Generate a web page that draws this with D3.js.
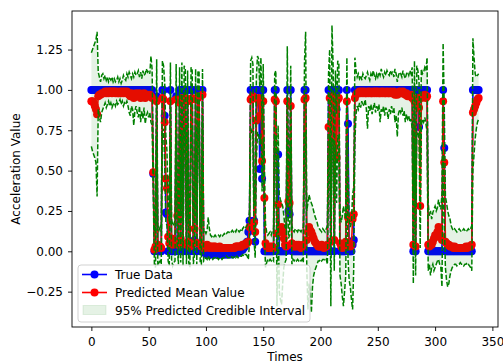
<!DOCTYPE html>
<html>
<head>
<meta charset="utf-8">
<script src="https://cdn.jsdelivr.net/npm/d3@7"></script>
<style>
  body { margin: 0; background: #fff; }
  svg { display: block; font-family: "DejaVu Sans", sans-serif; }
</style>
</head>
<body>
<div id="chart"></div>
<script>
// observed acceleration, one value per time step (0..338)
const trueData = [
  1,1,1,1,1,1,1,1,1,1,
  1,1,1,1,1,1,1,1,1,1,
  1,1,1,1,1,1,1,1,1,1,
  1,1,1,1,1,1,1,1,1,1,
  1,1,1,1,1,1,1,1,1,1,
  1,1,1,1,0.48,0,0,0.96,0,0,
  0,0,1,1,0.84,0.24,0.23,0,0,1,
  0,0,0.02,0,0.96,0,0,1,0.05,1,
  0,1,1,0,1,0,0,1,1,0,
  0.07,1,0,1,1,0.02,0,1,0,-0.01,
  -0.01,-0.02,-0.01,-0.02,-0.02,-0.01,-0.02,-0.02,-0.02,-0.01,
  -0.02,-0.02,-0.01,-0.02,-0.02,-0.02,-0.01,-0.02,-0.02,-0.01,
  -0.02,-0.01,-0.01,-0.02,-0.01,-0.01,-0.01,0,-0.01,0,
  0,0.01,0.01,0.02,0.03,0.05,0.06,0.12,0.19,1,
  1,1,0.19,0.06,1,1,1,0.51,1,0.45,
  1,0,0,0,0,0,0,0,0,0,
  1,1,0,0.6,0,0,0,0,0,0,
  0,1,0.25,0.23,1,0,0,0,0,0,
  0,0,0,0,0,0,1,1,0,0,
  0,0,0,0,0,0,0,0,0,0,
  0,0,0,0,0,0,0,1,1,0,
  1,1,0,1,0.88,1,1,0,0,0,
  0,0,0,1,0.79,0,0,0,0.04,0.07,
  1,1,1,1,1,1,1,1,1,1,
  1,1,1,1,1,1,1,1,1,1,
  1,1,1,1,1,1,1,1,1,1,
  1,1,1,1,1,1,1,1,1,1,
  1,1,1,1,1,1,1,1,1,1,
  1,0,1,0,1,1,0.77,1,1,1,
  1,1,1,1,0,0,0,0,0,0,
  0,0,0,0,0,0,0,1,0.64,0,
  0,0,0,0,0,0,0,0,0,0,
  0,0,0,0,0,0,0,0,0,0,
  0,0,0,1,1,1,1,1,1
];

// predicted mean
const predMean = [
  0.93,0.93,0.92,0.90,0.88,0.85,0.96,0.97,0.97,0.98,
  0.98,0.98,0.99,0.98,0.99,0.98,0.99,0.99,0.98,0.99,
  0.99,0.98,0.99,0.98,0.98,0.99,0.98,0.99,0.98,0.99,
  0.98,0.99,0.98,0.97,0.96,0.98,0.97,0.95,0.97,0.98,
  0.97,0.96,0.98,0.95,0.97,0.96,0.98,0.95,0.96,0.97,
  0.96,0.97,0.96,0.95,0.49,0.01,0.03,0.93,0.04,0.02,
  0.03,0.02,0.95,0.94,0.80,0.45,0.39,0.09,0.05,0.93,
  0.08,0.04,0.05,0.06,0.94,0.22,0.04,0.92,0.08,0.95,
  0.05,0.94,0.95,0.04,0.93,0.06,0.03,0.94,0.95,0.05,
  0.14,0.94,0.05,0.95,0.96,0.05,0.03,0.97,0.02,0.02,
  0.03,0.04,0.03,0.02,0.03,0.03,0.02,0.03,0.03,0.02,
  0.02,0.02,0.03,0.02,0.02,0.02,0.02,0.02,0.02,0.02,
  0.02,0.02,0.02,0.02,0.02,0.02,0.03,0.03,0.03,0.03,
  0.03,0.03,0.04,0.04,0.04,0.05,0.05,0.06,0.15,0.94,
  0.95,0.96,0.18,0.12,0.81,0.94,0.95,0.84,0.94,0.56,
  0.93,0.33,0.05,0.03,0.02,0.02,0.03,0.02,0.03,0.02,
  0.94,0.93,0.11,0.29,0.12,0.14,0.15,0.12,0.08,0.04,
  0.03,0.93,0.31,0.30,0.90,0.05,0.04,0.03,0.03,0.04,
  0.03,0.04,0.03,0.02,0.03,0.04,0.94,0.95,0.07,0.12,
  0.15,0.13,0.12,0.10,0.08,0.06,0.05,0.04,0.03,0.03,
  0.03,0.04,0.03,0.02,0.03,0.03,0.04,0.77,0.95,0.06,
  0.96,0.94,0.07,0.93,0.58,0.94,0.95,0.05,0.03,0.02,
  0.03,0.04,0.06,0.93,0.21,0.05,0.03,0.04,0.20,0.23,
  0.95,0.97,0.98,0.98,0.99,0.98,0.99,0.98,0.99,0.98,
  0.98,0.99,0.98,0.99,0.98,0.98,0.99,0.98,0.99,0.98,
  0.99,0.98,0.98,0.99,0.98,0.99,0.98,0.98,0.99,0.98,
  0.98,0.99,0.98,0.98,0.99,0.97,0.98,0.97,0.98,0.99,
  0.98,0.98,0.99,0.98,0.97,0.98,0.96,0.97,0.96,0.97,
  0.95,0.04,0.93,0.03,0.94,0.95,0.89,0.28,0.95,0.96,
  0.96,0.97,0.95,0.96,0.04,0.03,0.05,0.04,0.06,0.08,
  0.10,0.09,0.12,0.15,0.11,0.09,0.07,0.93,0.55,0.06,
  0.05,0.04,0.04,0.03,0.03,0.03,0.02,0.03,0.02,0.02,
  0.02,0.02,0.02,0.02,0.02,0.02,0.02,0.03,0.02,0.03,
  0.03,0.03,0.04,0.86,0.88,0.90,0.92,0.94,0.95
];

// 95% credible interval, upper edge
const upperBound = [
  1.23,1.25,1.27,1.29,1.31,1.36,1.11,1.08,1.05,1.09,
  1.10,1.07,1.09,1.06,1.08,1.05,1.07,1.06,1.08,1.05,
  1.07,1.05,1.06,1.08,1.05,1.07,1.04,1.06,1.09,1.07,
  1.06,1.10,1.08,1.11,1.09,1.07,1.10,1.08,1.11,1.09,
  1.10,1.12,1.08,1.11,1.07,1.12,1.09,1.10,1.13,1.11,
  1.12,1.10,1.21,1.13,0.62,0.12,0.14,1.19,0.16,0.13,
  0.15,0.12,1.18,1.15,1.05,0.72,0.62,0.25,0.18,1.17,
  0.20,0.16,0.17,0.19,1.16,0.44,0.15,1.14,0.22,1.17,
  0.18,1.15,1.13,0.16,1.12,0.19,0.15,1.14,1.12,0.18,
  0.30,1.13,0.17,1.11,1.12,0.18,0.14,1.13,0.12,0.13,
  0.11,0.13,0.21,0.14,0.10,0.09,0.10,0.09,0.10,0.09,
  0.09,0.10,0.09,0.10,0.09,0.10,0.11,0.10,0.11,0.12,
  0.12,0.11,0.12,0.13,0.12,0.13,0.12,0.14,0.13,0.12,
  0.13,0.12,0.14,0.15,0.14,0.15,0.16,0.18,0.25,1.18,
  1.20,1.16,0.30,0.28,1.08,1.21,1.19,1.02,1.20,0.75,
  1.16,0.55,0.17,0.12,0.10,0.11,0.12,0.10,0.13,0.14,
  1.10,1.12,0.30,0.78,0.35,0.32,0.30,0.28,0.22,0.15,
  0.14,1.27,0.55,0.50,1.15,0.16,0.13,0.12,0.14,0.13,
  0.12,0.14,0.13,0.12,0.14,0.15,1.17,1.36,0.25,0.30,
  0.35,0.32,0.30,0.28,0.25,0.22,0.20,0.18,0.15,0.14,
  0.13,0.12,0.14,0.13,0.12,0.14,0.16,1.10,1.25,0.22,
  1.40,1.15,0.35,1.12,0.85,1.18,1.16,0.25,0.18,0.22,
  0.28,0.24,0.20,1.20,0.60,0.20,0.15,0.18,0.35,0.40,
  1.20,1.12,1.08,1.10,1.07,1.09,1.06,1.10,1.08,1.07,
  1.09,1.11,1.08,1.06,1.10,1.08,1.12,1.09,1.07,1.10,
  1.08,1.11,1.09,1.13,1.10,1.08,1.11,1.09,1.12,1.10,
  1.09,1.12,1.10,1.11,1.08,1.13,1.10,1.05,1.09,1.11,
  1.10,1.08,1.12,1.09,1.07,1.10,1.11,1.09,1.12,1.10,
  1.14,0.35,1.18,0.30,1.15,1.12,1.05,0.55,1.13,1.10,
  1.11,1.14,1.12,1.20,0.30,0.22,0.25,0.20,0.24,0.26,
  0.28,0.25,0.27,0.32,0.28,0.26,0.36,1.29,0.90,0.34,
  0.30,0.25,0.22,0.20,0.16,0.14,0.13,0.14,0.13,0.12,
  0.13,0.14,0.13,0.12,0.13,0.14,0.13,0.12,0.13,0.14,
  0.13,0.14,0.16,1.32,1.20,1.10,1.08,1.09,1.10
];

// 95% credible interval, lower edge
const lowerBound = [
  0.65,0.62,0.60,0.58,0.55,0.34,0.88,0.83,0.80,0.86,
  0.88,0.90,0.92,0.89,0.91,0.93,0.90,0.92,0.89,0.91,
  0.92,0.90,0.93,0.91,0.92,0.94,0.91,0.93,0.90,0.92,
  0.91,0.93,0.90,0.86,0.84,0.90,0.88,0.78,0.87,0.90,
  0.86,0.83,0.90,0.80,0.87,0.82,0.89,0.79,0.84,0.86,
  0.83,0.86,0.80,0.78,0.36,-0.08,-0.10,0.72,-0.09,-0.07,
  -0.06,-0.08,0.74,0.76,0.55,0.18,0.16,-0.06,-0.09,0.70,
  -0.05,-0.09,-0.07,-0.06,0.73,0.01,-0.08,0.71,-0.07,0.74,
  -0.09,0.74,0.77,-0.08,0.72,-0.07,-0.10,0.75,0.78,-0.08,
  -0.02,0.75,-0.08,0.78,0.80,-0.07,-0.08,0.81,-0.06,-0.05,
  -0.04,-0.05,-0.03,-0.05,-0.04,-0.04,-0.05,-0.04,-0.04,-0.05,
  -0.04,-0.05,-0.04,-0.04,-0.05,-0.04,-0.04,-0.04,-0.03,-0.04,
  -0.04,-0.04,-0.03,-0.04,-0.04,-0.03,-0.04,-0.03,-0.04,-0.03,
  -0.03,-0.03,-0.02,-0.03,-0.02,-0.02,-0.03,-0.05,0.05,0.72,
  0.75,0.73,0.06,-0.04,0.55,0.74,0.72,0.66,0.73,0.37,
  0.70,0.12,-0.10,-0.07,-0.05,-0.06,-0.05,-0.06,-0.05,-0.06,
  0.72,0.70,-0.34,0.28,-0.25,-0.30,-0.33,-0.20,-0.10,-0.07,
  -0.05,0.70,0.08,0.10,0.68,-0.08,-0.05,-0.06,-0.05,-0.06,
  -0.05,-0.06,-0.05,-0.06,-0.05,-0.07,0.72,0.74,-0.10,-0.36,
  -0.20,-0.28,-0.38,-0.22,-0.15,-0.12,-0.10,-0.08,-0.06,-0.06,
  -0.05,-0.06,-0.05,-0.05,-0.06,-0.05,-0.08,0.45,0.73,-0.34,
  0.70,0.68,-0.12,0.66,0.30,0.72,0.70,-0.15,-0.20,-0.28,
  -0.34,-0.25,-0.15,0.68,-0.05,-0.18,-0.22,-0.30,-0.36,-0.10,
  0.68,0.85,0.90,0.88,0.92,0.89,0.93,0.90,0.91,0.94,
  0.88,0.76,0.90,0.87,0.91,0.85,0.89,0.92,0.86,0.90,
  0.87,0.91,0.80,0.88,0.86,0.90,0.84,0.89,0.87,0.82,
  0.88,0.85,0.90,0.86,0.89,0.80,0.84,0.71,0.85,0.88,
  0.86,0.89,0.84,0.87,0.80,0.85,0.82,0.84,0.80,0.82,
  0.76,-0.20,0.70,-0.15,0.72,0.74,0.70,0.02,0.78,0.82,
  0.80,0.83,0.79,0.74,-0.12,-0.08,-0.15,-0.10,-0.08,-0.12,
  -0.10,-0.08,-0.06,-0.05,-0.08,-0.10,-0.22,0.60,0.20,-0.10,
  -0.18,-0.22,-0.20,-0.15,-0.12,-0.10,-0.09,-0.08,-0.08,-0.09,
  -0.08,-0.08,-0.07,-0.08,-0.08,-0.09,-0.08,-0.08,-0.07,-0.08,
  -0.09,-0.10,-0.12,0.50,0.60,0.70,0.76,0.80,0.82
];

const times = trueData.map((d, i) => i);

const xTicks = [0, 50, 100, 150, 200, 250, 300, 350];
const yTicks = [-0.25, 0, 0.25, 0.5, 0.75, 1.0, 1.25];

const legendLabels = ["True Data", "Predicted Mean Value", "95% Predicted Credible Interval"];

const width = 503, height = 362;
const margin = { top: 11, right: 5, bottom: 35, left: 72 };
const innerW = width - margin.left - margin.right;
const innerH = height - margin.top - margin.bottom;

const svg = d3.select("#chart").append("svg")
  .attr("width", width)
  .attr("height", height);

// matplotlib-like 5% margins around the data
const pad = (lo, hi) => { const m = (hi - lo) * 0.05; return [lo - m, hi + m]; };

const x = d3.scaleLinear()
  .domain(pad(d3.min(times), d3.max(times)))
  .range([margin.left, margin.left + innerW]);

const y = d3.scaleLinear()
  .domain(pad(d3.min(lowerBound), d3.max(upperBound)))
  .range([margin.top + innerH, margin.top]);

const plot = svg.append("g");

const lineGen = d3.line()
  .x((d, i) => x(times[i]))
  .y(d => y(d));

// true data
plot.append("path")
  .attr("d", lineGen(trueData))
  .attr("fill", "none")
  .attr("stroke", "#0000ff")
  .attr("stroke-width", 1.6);
plot.append("g").selectAll("circle")
  .data(trueData)
  .enter().append("circle")
  .attr("cx", (d, i) => x(times[i]))
  .attr("cy", d => y(d))
  .attr("r", 4)
  .attr("fill", "#0000ff");

// predicted mean
plot.append("path")
  .attr("d", lineGen(predMean))
  .attr("fill", "none")
  .attr("stroke", "#ff0000")
  .attr("stroke-width", 1.6);
plot.append("g").selectAll("circle")
  .data(predMean)
  .enter().append("circle")
  .attr("cx", (d, i) => x(times[i]))
  .attr("cy", d => y(d))
  .attr("r", 4)
  .attr("fill", "#ff0000");

// credible interval
const area = d3.area()
  .x((d, i) => x(times[i]))
  .y0((d, i) => y(lowerBound[i]))
  .y1(d => y(d));

plot.append("path")
  .attr("d", area(upperBound))
  .attr("fill", "rgba(0,128,0,0.1)")
  .attr("stroke", "none");

[upperBound, lowerBound].forEach(arr => {
  plot.append("path")
    .attr("d", lineGen(arr))
    .attr("fill", "none")
    .attr("stroke", "#008000")
    .attr("stroke-width", 1.5)
    .attr("stroke-dasharray", "5,2");
});

// axes
const fmtY = d3.format(".2f");

const xAxis = svg.append("g")
  .attr("transform", `translate(0,${margin.top + innerH})`)
  .call(d3.axisBottom(x).tickValues(xTicks).tickSize(4).tickPadding(6).tickFormat(d3.format("d")));

const yAxis = svg.append("g")
  .attr("transform", `translate(${margin.left},0)`)
  .call(d3.axisLeft(y).tickValues(yTicks).tickSize(4).tickPadding(5).tickFormat(fmtY));

[xAxis, yAxis].forEach(ax => {
  ax.select(".domain").remove();
  ax.selectAll(".tick line").attr("stroke", "#000").attr("stroke-width", 0.9);
  ax.selectAll(".tick text")
    .attr("fill", "#000")
    .style("font-size", "12px")
    .style("font-family", "'DejaVu Sans', sans-serif");
});

// frame
svg.append("rect")
  .attr("x", margin.left)
  .attr("y", margin.top)
  .attr("width", innerW)
  .attr("height", innerH)
  .attr("fill", "none")
  .attr("stroke", "#000")
  .attr("stroke-width", 0.9);

// axis labels
svg.append("text")
  .attr("x", margin.left + innerW / 2)
  .attr("y", 360.5)
  .attr("text-anchor", "middle")
  .style("font-size", "12px")
  .text("Times");

svg.append("text")
  .attr("transform", `translate(20,${margin.top + innerH / 2}) rotate(-90)`)
  .attr("text-anchor", "middle")
  .style("font-size", "12px")
  .text("Acceleration Value");

// legend
const legend = svg.append("g").attr("transform", "translate(78,265)");

legend.append("rect")
  .attr("width", 232)
  .attr("height", 57)
  .attr("rx", 3)
  .attr("fill", "rgba(255,255,255,0.8)")
  .attr("stroke", "#ccc")
  .attr("stroke-width", 0.9);

const swatchColors = ["#0000ff", "#ff0000"];
swatchColors.forEach((c, i) => {
  const yy = 9.5 + i * 18;
  legend.append("line")
    .attr("x1", 4).attr("x2", 29)
    .attr("y1", yy).attr("y2", yy)
    .attr("stroke", c)
    .attr("stroke-width", 1.6);
  legend.append("circle")
    .attr("cx", 16.5).attr("cy", yy)
    .attr("r", 4)
    .attr("fill", c);
});

legend.append("rect")
  .attr("x", 5).attr("y", 40.5)
  .attr("width", 23).attr("height", 9)
  .attr("fill", "rgba(0,128,0,0.1)")
  .attr("stroke", "rgba(0,128,0,0.1)");

legend.selectAll("text.lbl")
  .data(legendLabels)
  .enter().append("text")
  .attr("class", "lbl")
  .attr("x", 37)
  .attr("y", (d, i) => 9.5 + i * 18)
  .attr("dy", "0.35em")
  .style("font-size", "12px")
  .attr("fill", "#000")
  .text(d => d);
</script>
</body>
</html>
